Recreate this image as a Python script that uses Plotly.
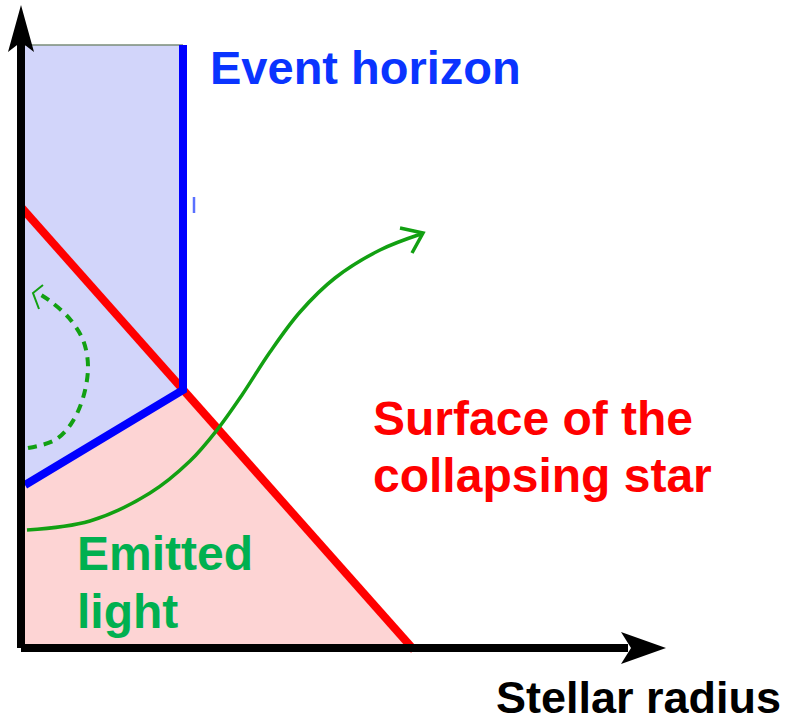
import plotly.graph_objects as go

W, H = 809, 723

# --- diagram geometry (pixel-like data space, y grows downward) ---
axis_x = [21, 21]
axis_y_v = [648, 42]
axis_h_x = [21, 628]
axis_h_y = [648, 648]
vert_head_x = [21, 8, 21, 34, 21]
vert_head_y = [5, 52, 42, 52, 5]
horz_head_x = [666, 621, 631, 621, 666]
horz_head_y = [648, 632, 648, 664, 648]

blue_fill_x = [24, 183, 183, 24]
blue_fill_y = [45, 45, 390, 486]
pink_fill_x = [24, 183, 413, 24]
pink_fill_y = [486, 390, 650, 650]

top_edge_x = [24, 183]
top_edge_y = [45, 45]

horizon_x = [183, 183, 25]
horizon_y = [45, 390, 485]

surface_x = [21, 414]
surface_y = [207, 650]

light_x = [27, 90, 150, 190, 217, 242, 270, 300, 335, 380, 421]
light_y = [530, 521, 493, 461, 430, 395, 352, 312, 278, 250, 234]
light_head_x = [400, 423, 412]
light_head_y = [228, 233, 253]

trapped_x = [28, 55, 71, 83, 88, 83, 69, 50, 36]
trapped_y = [448, 440, 424, 398, 366, 340, 318, 301, 292]
trapped_head_x = [43, 33, 39]
trapped_head_y = [285, 293, 309]

mark_x = [194, 194]
mark_y = [197, 213]

fig = go.Figure()

def poly(x, y, color):
    fig.add_trace(go.Scatter(x=x, y=y, fill="toself", fillcolor=color, mode="none",
                             hoverinfo="skip", showlegend=False))

def line(x, y, color, width, dash=None, shape="linear"):
    fig.add_trace(go.Scatter(x=x, y=y, mode="lines", hoverinfo="skip", showlegend=False,
                             line=dict(color=color, width=width, dash=dash, shape=shape)))

poly(blue_fill_x, blue_fill_y, "#D2D5FA")
poly(pink_fill_x, pink_fill_y, "#FDD4D4")
line(top_edge_x, top_edge_y, "#7A8C78", 1.5)
line(mark_x, mark_y, "#5A70FF", 2.5)
line(surface_x, surface_y, "#FF0000", 8)
line(horizon_x, horizon_y, "#0000FF", 8)
line(light_x, light_y, "#12A012", 3.5, shape="spline")
line(light_head_x, light_head_y, "#12A012", 3.5)
line(trapped_x, trapped_y, "#12A012", 4, dash="9px,7px", shape="spline")
line(trapped_head_x, trapped_head_y, "#12A012", 2)
line(axis_x, axis_y_v, "#000000", 8)
line(axis_h_x, axis_h_y, "#000000", 8)
poly(vert_head_x, vert_head_y, "#000000")
poly(horz_head_x, horz_head_y, "#000000")

FONT = "Liberation Sans, Arial, sans-serif"

def label(text, x, y, color, size):
    fig.add_annotation(x=x, y=y, xref="x", yref="y", text=f"<b>{text}</b>", showarrow=False,
                       xanchor="left", yanchor="middle", borderpad=0,
                       font=dict(family=FONT, size=size, color=color))

label("Event horizon", 209, 67, "#0A34FF", 47)
label("Surface of the", 372, 418, "#FF0000", 48)
label("collapsing star", 372, 475, "#FF0000", 48)
label("Emitted", 76, 553, "#00B050", 48)
label("light", 76, 611, "#00B050", 48)
label("Stellar radius", 495, 697, "#000000", 45)

fig.update_layout(
    width=W, height=H,
    margin=dict(l=0, r=0, t=0, b=0),
    paper_bgcolor="white", plot_bgcolor="white",
    xaxis=dict(range=[0, W], visible=False, fixedrange=True),
    yaxis=dict(range=[H, 0], visible=False, fixedrange=True),
)

fig.write_html("out.html", config={"displayModeBar": False},
               post_script="document.body.style.margin='0';document.body.style.overflow='hidden';")
